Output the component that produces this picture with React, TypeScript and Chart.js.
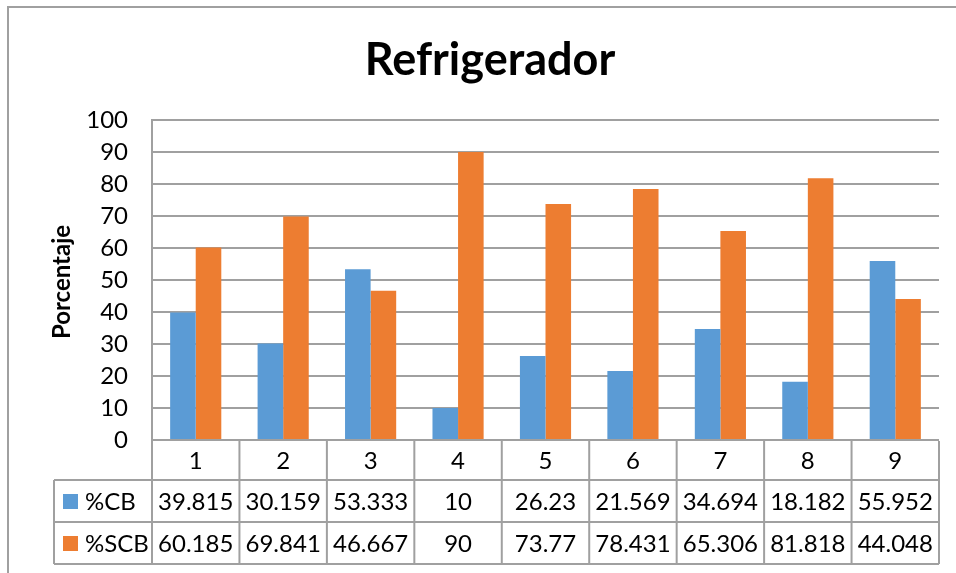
import React, { useEffect, useRef } from "react";
import { Chart, registerables } from "chart.js";

Chart.register(...registerables);

const chartTitle = "Refrigerador";
const yAxisTitle = "Porcentaje";
const categories = ["1", "2", "3", "4", "5", "6", "7", "8", "9"];
const seriesNames = ["%CB", "%SCB"];
const cbValues = [39.815, 30.159, 53.333, 10, 26.23, 21.569, 34.694, 18.182, 55.952];
const scbValues = [60.185, 69.841, 46.667, 90, 73.77, 78.431, 65.306, 81.818, 44.048];
const seriesColors = ["#5B9BD5", "#ED7D31"];
const yMin = 0;
const yMax = 100;
const yStep = 10;

const FONT = "Lato, 'Open Sans', sans-serif";
const LINE = "#a0a0a0";

const tablePlugin = {
  id: "tablePlugin",
  afterDraw(chart: any) {
    const ctx = chart.ctx;
    const area = chart.chartArea;
    const xs = chart.scales.x;
    const n = categories.length;
    const colW = (area.right - area.left) / n;
    const top = area.bottom + 1;
    const row0 = 39;
    const rowH = 42;
    const tableLeft = 54;
    const bottom = top + row0 + rowH * 2;

    ctx.save();
    // outer chart border
    ctx.strokeStyle = LINE;
    ctx.lineWidth = 2;
    ctx.beginPath();
    ctx.moveTo(8, 580);
    ctx.lineTo(8, 7);
    ctx.lineTo(960, 7);
    ctx.stroke();

    // title
    ctx.fillStyle = "#000";
    ctx.font = `bold 45px ${FONT}`;
    ctx.textAlign = "center";
    ctx.textBaseline = "middle";
    ctx.fillText(chartTitle, 490, 60);

    // y axis title
    ctx.save();
    ctx.translate(62, 282);
    ctx.rotate(-Math.PI / 2);
    ctx.font = `bold 24px ${FONT}`;
    ctx.fillText(yAxisTitle, 0, 0);
    ctx.restore();

    // table lines
    ctx.strokeStyle = LINE;
    ctx.lineWidth = 2;
    ctx.beginPath();
    ctx.moveTo(tableLeft, top + row0);
    ctx.lineTo(area.right, top + row0);
    ctx.moveTo(tableLeft, top + row0 + rowH);
    ctx.lineTo(area.right, top + row0 + rowH);
    ctx.moveTo(tableLeft, bottom);
    ctx.lineTo(area.right, bottom);
    ctx.moveTo(tableLeft, top + row0);
    ctx.lineTo(tableLeft, bottom);
    for (let i = 0; i <= n; i++) {
      const x = i < n ? xs.getPixelForValue(i) - colW / 2 : xs.getPixelForValue(n - 1) + colW / 2;
      ctx.moveTo(x, top);
      ctx.lineTo(x, bottom);
    }
    ctx.stroke();

    // texts
    ctx.fillStyle = "#000";
    ctx.font = `24px ${FONT}`;
    ctx.textAlign = "center";
    ctx.textBaseline = "middle";
    const rows = [cbValues, scbValues];
    for (let i = 0; i < n; i++) {
      const cx = xs.getPixelForValue(i);
      ctx.fillText(categories[i], cx, top + row0 / 2 + 1);
      rows.forEach((vals, r) => {
        ctx.fillText(String(vals[i]), cx, top + row0 + rowH * r + rowH / 2 + 1);
      });
    }
    // legend keys
    seriesNames.forEach((name, r) => {
      const cy = top + row0 + rowH * r + rowH / 2;
      ctx.fillStyle = seriesColors[r];
      ctx.fillRect(63, cy - 7, 15, 15);
      ctx.fillStyle = "#000";
      ctx.textAlign = "left";
      ctx.fillText(name, 85, cy + 1);
    });
    ctx.restore();
  },
};

export default function App() {
  const ref = useRef<HTMLCanvasElement | null>(null);
  useEffect(() => {
    if (!ref.current) return;
    const chart = new Chart(ref.current, {
      type: "bar",
      data: {
        labels: categories,
        datasets: seriesNames.map((name, i) => ({
          label: name,
          data: i === 0 ? cbValues : scbValues,
          backgroundColor: seriesColors[i],
          borderWidth: 0,
          categoryPercentage: 0.585,
          barPercentage: 1.0,
        })),
      },
      options: {
        animation: false,
        responsive: false,
        maintainAspectRatio: false,
        layout: { padding: { left: 0, top: 120, right: 17, bottom: 133 } },
        plugins: { legend: { display: false }, title: { display: false }, tooltip: { enabled: false } },
        scales: {
          x: { display: false },
          y: {
            min: yMin,
            max: yMax,
            ticks: { stepSize: yStep, color: "#000", font: { family: FONT, size: 24 }, padding: 24 },
            grid: { color: LINE, lineWidth: 2, drawTicks: false },
            border: { color: LINE, width: 2 },
            afterFit(scale: any) {
              scale.width = 152;
            },
          },
        },
      },
      plugins: [tablePlugin],
    });
    return () => chart.destroy();
  }, []);
  return (
    <div style={{ position: "fixed", left: 0, top: 0, width: 956, height: 573, background: "#fff" }}>
      <canvas ref={ref} width={956} height={573} />
    </div>
  );
}
